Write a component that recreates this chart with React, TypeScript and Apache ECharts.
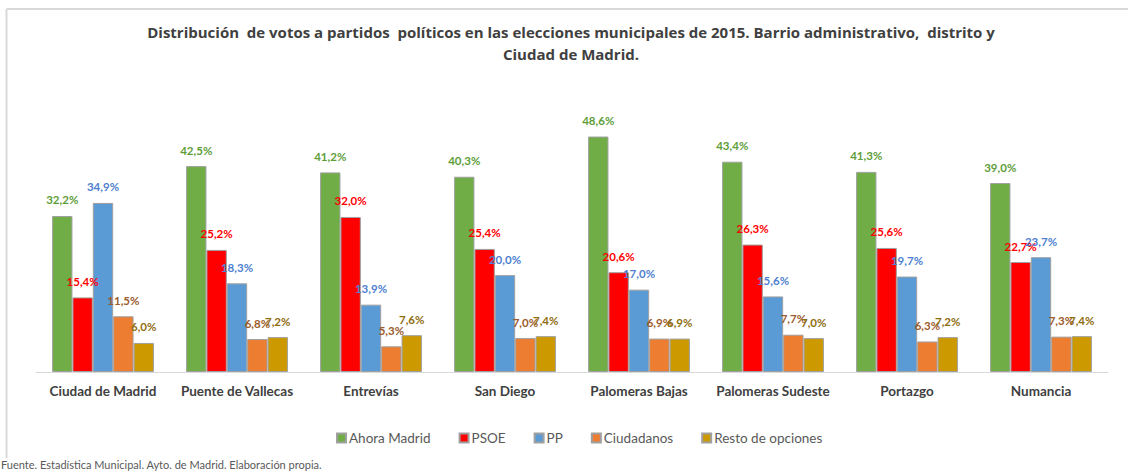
import React, { useEffect, useRef } from "react";
import * as echarts from "echarts";

const categories = [
  "Ciudad de Madrid",
  "Puente de Vallecas",
  "Entrevías",
  "San Diego",
  "Palomeras Bajas",
  "Palomeras Sudeste",
  "Portazgo",
  "Numancia",
];
const ahoraMadrid = [32.2, 42.5, 41.2, 40.3, 48.6, 43.4, 41.3, 39.0];
const psoe = [15.4, 25.2, 32.0, 25.4, 20.6, 26.3, 25.6, 22.7];
const pp = [34.9, 18.3, 13.9, 20.0, 17.0, 15.6, 19.7, 23.7];
const ciudadanos = [11.5, 6.8, 5.3, 7.0, 6.9, 7.7, 6.3, 7.3];
const resto = [6.0, 7.2, 7.6, 7.4, 6.9, 7.0, 7.2, 7.4];

const seriesDefs = [
  { name: "Ahora Madrid", data: ahoraMadrid, color: "#70ad47", label: "#5e9e3a" },
  { name: "PSOE", data: psoe, color: "#ff0000", label: "#ff0000" },
  { name: "PP", data: pp, color: "#5b9bd5", label: "#4f7fd0" },
  { name: "Ciudadanos", data: ciudadanos, color: "#ed7d31", label: "#9c5b2e" },
  { name: "Resto de opciones", data: resto, color: "#cc9900", label: "#8f6d10" },
];

const FONT = "Lato, 'Open Sans', sans-serif";
const TITLE_FONT = "'Open Sans', Lato, sans-serif";

export default function App() {
  const ref = useRef<HTMLDivElement>(null);
  useEffect(() => {
    if (!ref.current) return;
    const chart = echarts.init(ref.current, null, { renderer: "svg" });
    chart.setOption({
      animation: false,
      backgroundColor: "#ffffff",
      title: {
        text: "Distribución  de votos a partidos  políticos en las elecciones municipales de 2015. Barrio administrativo,  distrito y\nCiudad de Madrid.",
        left: 566,
        top: 16,
        textAlign: "center",
        textStyle: {
          fontFamily: TITLE_FONT,
          fontSize: 15,
          fontWeight: "bold",
          color: "#404040",
          lineHeight: 22,
        },
      },
      legend: {
        bottom: 22,
        left: 331,
        itemWidth: 9,
        itemHeight: 9,
        itemGap: 28,
        icon: "rect",
        textStyle: { fontFamily: FONT, fontSize: 13.5, color: "#595959", padding: [0, 0, 0, -2] },
        data: seriesDefs.map((s) => s.name),
      },
      grid: { left: 36, right: 20, top: 129.75, bottom: 100 },
      xAxis: {
        type: "category",
        data: categories,
        axisLine: { lineStyle: { color: "#d9d9d9", width: 1 } },
        axisTick: { show: false },
        axisLabel: {
          interval: 0,
          fontFamily: FONT,
          fontSize: 13.5,
          fontWeight: "bold",
          color: "#404040",
          margin: 12,
        },
      },
      yAxis: {
        type: "value",
        min: 0,
        max: 50,
        show: false,
        splitLine: { show: false },
      },
      series: seriesDefs.map((s) => ({
        name: s.name,
        type: "bar",
        data: s.data,
        barGap: "0%",
        barCategoryGap: "24%",
        itemStyle: { color: s.color, borderColor: "#a0a0a0", borderWidth: 1 },
        label: {
          show: true,
          position: "top",
          distance: 10,
          fontFamily: FONT,
          fontSize: 11.5,
          fontWeight: "bold",
          color: s.label,
          formatter: (p: any) => p.value.toFixed(1).replace(".", ",") + "%",
        },
      })),
      graphic: [
        {
          type: "line",
          shape: { x1: 6.5, y1: 9, x2: 1128, y2: 9 },
          style: { stroke: "#d9d9d9", lineWidth: 2 },
        },
        {
          type: "line",
          shape: { x1: 6.5, y1: 9, x2: 6.5, y2: 458 },
          style: { stroke: "#d9d9d9", lineWidth: 2 },
        },
        {
          type: "text",
          left: 1,
          top: 459,
          style: {
            text: "Fuente. Estadística Municipal. Ayto. de Madrid. Elaboración propia.",
            fontFamily: FONT,
            fontSize: 11,
            fill: "#595959",
          },
        },
      ],
    });
    return () => chart.dispose();
  }, []);
  return (
    <div
      ref={ref}
      style={{ position: "fixed", left: 0, top: 0, width: 1128, height: 472 }}
    />
  );
}
